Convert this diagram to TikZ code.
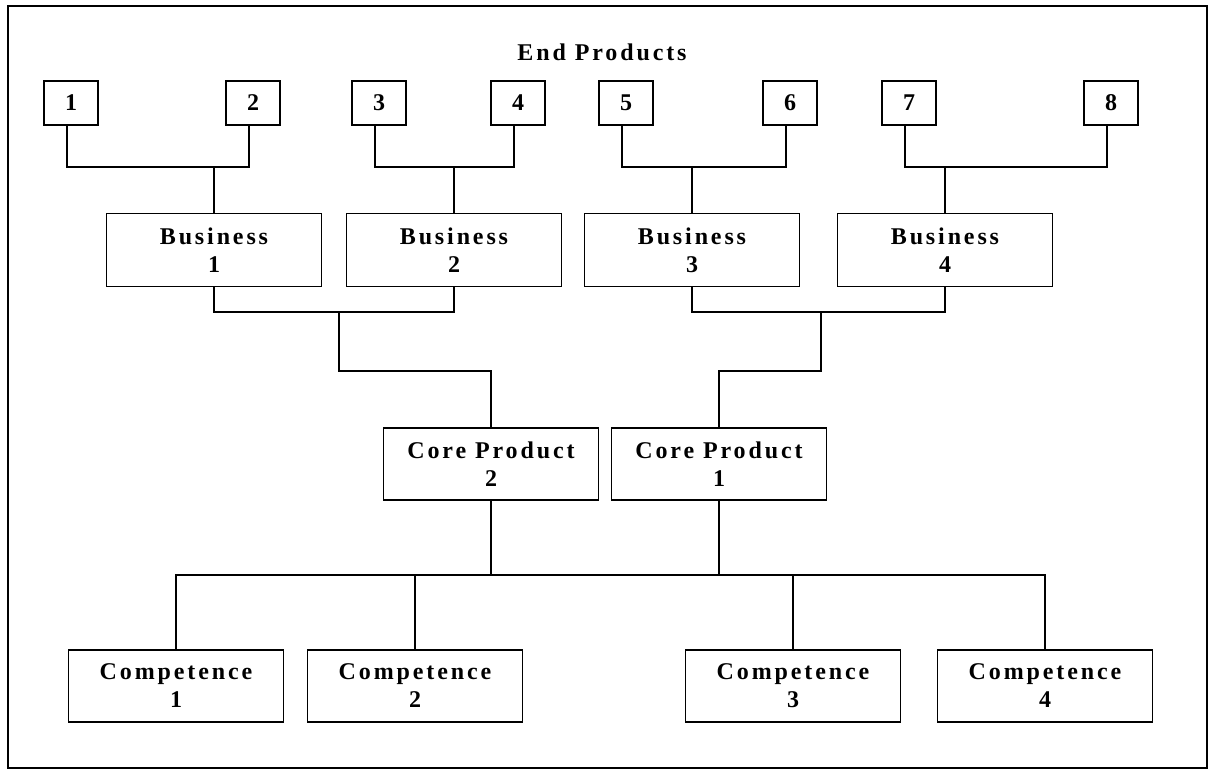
\documentclass[tikz,border=0pt]{standalone}
\usepackage{fontspec}
\setmainfont{Liberation Serif}
\newfontfamily\spacedfont[LetterSpace=12]{Liberation Serif}
\usetikzlibrary{calc}

\begin{document}
\begin{tikzpicture}[x=1pt, y=-1pt,
	box/.style={draw, line width=1.7pt, inner sep=0pt, align=center, font=\spacedfont\bfseries\fontsize{24}{28}\selectfont},
	endbox/.style={box, minimum width=54pt, minimum height=44pt},
	bigbox/.style={box, minimum width=215pt, minimum height=73pt},
	link/.style={line width=1.6pt}]
	\useasboundingbox (0,0) rectangle (1210,770);
	\draw[line width=1.6pt] (8,6) rectangle (1207,768);

	\node[font=\spacedfont\bfseries\fontsize{24}{28}\selectfont] (title) at (602,52) {End Products};

	% end products
	\foreach \n/\x in {1/71, 2/253, 3/379, 4/518, 5/626, 6/790, 7/909, 8/1111}
	{
		\node[endbox] (p\n) at (\x,103) {\n};
	}

	% businesses
	\foreach \n/\x in {1/214, 2/454, 3/692, 4/945}
	{
		\node[bigbox] (b\n) at (\x,250) {Business\\\n};
	}

	\node[bigbox, minimum height=72pt] (core2) at (491,464) {Core Product\\2};
	\node[bigbox, minimum height=72pt] (core1) at (719,464) {Core Product\\1};

	\foreach \n/\x in {1/176, 2/415, 3/793, 4/1045}
	{
		\node[bigbox, minimum height=72pt] (comp\n) at (\x,686) {Competence\\\n};
	}

	\coordinate (jl) at (339,312);
	\coordinate (jr) at (821,312);

	\foreach \i/\a/\b in {1/1/2, 2/3/4, 3/5/6, 4/7/8}
	{
		\draw[link] ([xshift=-4pt]p\a.south) |- (b\i.north |- 0,167) -| ([xshift=-4pt]p\b.south);
		\draw[link] (b\i.north) -- (b\i.north |- 0,167);
	}

	\draw[link] (b1.south) |- (jl) -| (b2.south);
	\draw[link] (jl) |- (core2.north |- 0,371) -- (core2.north);
	\draw[link] (b3.south) |- (jr) -| (b4.south);
	\draw[link] (jr) |- (core1.north |- 0,371) -- (core1.north);

	\draw[link] (core2.south) -- (core2.south |- 0,575);
	\draw[link] (core1.south) -- (core1.south |- 0,575);
	\draw[link] (comp1.north) |- (comp4.north |- 0,575) -- (comp4.north);
	\draw[link] (comp2.north) -- (comp2.north |- 0,575);
	\draw[link] (comp3.north) -- (comp3.north |- 0,575);
\end{tikzpicture}
\end{document}
